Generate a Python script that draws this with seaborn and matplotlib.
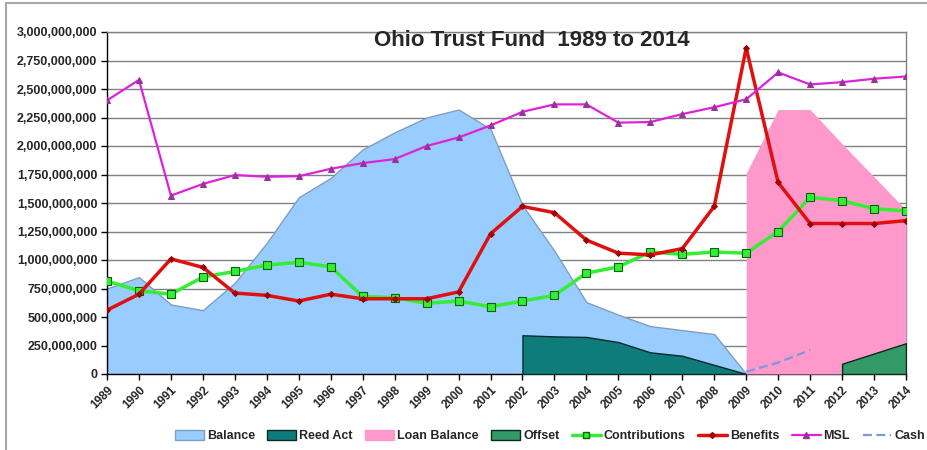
import matplotlib
matplotlib.use("Agg")
import matplotlib.pyplot as plt
import seaborn as sns
import numpy as np
import pandas as pd
from matplotlib.patches import Patch
from matplotlib.lines import Line2D
from matplotlib.ticker import FuncFormatter, MultipleLocator

years = list(range(1989, 2015))

balance = [0.75, 0.85, 0.61, 0.56, 0.80, 1.15, 1.55, 1.72, 1.97, 2.12, 2.25, 2.32, 2.15,
           1.48, 1.08, 0.63, 0.52, 0.42, 0.385, 0.35, 0.0]  # 1989-2009
reed_years = list(range(2002, 2010))
reed_act = [0.34, 0.33, 0.325, 0.28, 0.19, 0.16, 0.08, 0.0]
loan_years = list(range(2009, 2015))
loan_balance = [1.76, 2.32, 2.32, 2.02, 1.73, 1.44]
offset_years = [2012, 2013, 2014]
offset = [0.09, 0.18, 0.27]
contributions = [0.815, 0.73, 0.70, 0.85, 0.90, 0.955, 0.98, 0.94, 0.68, 0.67, 0.62, 0.64,
                 0.59, 0.64, 0.69, 0.885, 0.94, 1.07, 1.05, 1.07, 1.06, 1.25, 1.55, 1.52,
                 1.45, 1.43]
benefits = [0.56, 0.70, 1.01, 0.935, 0.71, 0.69, 0.64, 0.70, 0.66, 0.66, 0.66, 0.72,
            1.23, 1.47, 1.415, 1.175, 1.06, 1.045, 1.10, 1.47, 2.86, 1.68, 1.32, 1.32,
            1.32, 1.345]
msl = [2.40, 2.58, 1.565, 1.667, 1.745, 1.73, 1.735, 1.80, 1.85, 1.885, 2.00, 2.075,
       2.18, 2.30, 2.365, 2.365, 2.205, 2.21, 2.28, 2.34, 2.41, 2.645, 2.54, 2.56, 2.59,
       2.61]
cash_years = [2009, 2010, 2011]
cash = [0.02, 0.10, 0.21]

B = 1e9
sns.set_style("white")
plt.rcParams['font.family'] = ['Liberation Sans', 'DejaVu Sans']

fig = plt.figure(figsize=(9.27, 4.5), dpi=100)
ax = fig.add_axes([107/927, 1-374/450, (906-107)/927, (374-32)/450])

bal_years = years[:len(balance)]
ax.fill_between(bal_years, 0, np.array(balance)*B, color="#99CCFF", edgecolor="#7f9fbf",
                linewidth=1.0, zorder=2)
ax.fill_between(reed_years, 0, np.array(reed_act)*B, color="#0E7C7B", edgecolor="#0a2a2a",
                linewidth=1.0, zorder=3)
ax.fill_between(loan_years, 0, np.array(loan_balance)*B, color="#FF99CC", linewidth=0,
                zorder=3)
ax.fill_between(offset_years, 0, np.array(offset)*B, color="#339966", edgecolor="#0a2a1a",
                linewidth=1.0, zorder=4)

df_c = pd.DataFrame({"year": years, "v": np.array(contributions)*B})
df_b = pd.DataFrame({"year": years, "v": np.array(benefits)*B})
df_m = pd.DataFrame({"year": years, "v": np.array(msl)*B})
df_cash = pd.DataFrame({"year": cash_years, "v": np.array(cash)*B})

sns.lineplot(data=df_c, x="year", y="v", ax=ax, color="#33EE33", linewidth=2.5,
             marker="s", markersize=5.5, markerfacecolor="#33EE33",
             markeredgecolor="#006600", markeredgewidth=0.8, zorder=6)
sns.lineplot(data=df_b, x="year", y="v", ax=ax, color="#E01010", linewidth=2.5,
             marker="D", markersize=3, markerfacecolor="#A00000",
             markeredgecolor="#A00000", zorder=7)
sns.lineplot(data=df_m, x="year", y="v", ax=ax, color="#DD22DD", linewidth=1.6,
             marker="^", markersize=5, markerfacecolor="#993399",
             markeredgecolor="#993399", zorder=8)
sns.lineplot(data=df_cash, x="year", y="v", ax=ax, color="#7799DD", linewidth=1.6,
             linestyle=(0, (4, 2)), zorder=8)

ax.set_xlim(1989, 2014)
ax.set_ylim(0, 3e9)
ax.yaxis.set_major_locator(MultipleLocator(2.5e8))
ax.yaxis.set_major_formatter(FuncFormatter(lambda v, p: f"{int(round(v)):,}"))
ax.set_xticks(years)
ax.set_xticklabels([str(y) for y in years], rotation=45, ha="right",
                   rotation_mode="anchor", fontsize=8.5, fontweight="bold")
for lbl in ax.get_yticklabels():
    lbl.set_fontsize(9)
    lbl.set_fontweight("bold")
ax.set_xlabel("")
ax.set_ylabel("")
ax.grid(axis="y", color="#808080", linewidth=1.0, zorder=0)
ax.set_axisbelow(True)
ax.tick_params(axis="both", which="major", direction="out", length=4, width=1,
               color="black", left=True, bottom=True, pad=3)
for s in ["top", "right"]:
    ax.spines[s].set_color("#808080")
    ax.spines[s].set_linewidth(1.0)
for s in ["left", "bottom"]:
    ax.spines[s].set_color("black")
    ax.spines[s].set_linewidth(1.0)

fig.text(532/927, 1-41/450, "Ohio Trust Fund  1989 to 2014",
         ha="center", va="center", fontsize=16, fontweight="bold", zorder=10)

handles = [
    Patch(facecolor="#99CCFF", edgecolor="#7f9fbf", label="Balance"),
    Patch(facecolor="#0E7C7B", edgecolor="#0a2a2a", label="Reed Act"),
    Patch(facecolor="#FF99CC", edgecolor="#FF99CC", label="Loan Balance"),
    Patch(facecolor="#339966", edgecolor="#0a2a1a", label="Offset"),
    Line2D([], [], color="#33EE33", linewidth=2.5, marker="s", markersize=5,
           markerfacecolor="#33EE33", markeredgecolor="#006600", label="Contributions"),
    Line2D([], [], color="#E01010", linewidth=2.5, marker="D", markersize=3,
           markerfacecolor="#A00000", markeredgecolor="#A00000", label="Benefits"),
    Line2D([], [], color="#DD22DD", linewidth=1.6, marker="^", markersize=5,
           markerfacecolor="#993399", markeredgecolor="#993399", label="MSL"),
    Line2D([], [], color="#7799DD", linewidth=1.6, linestyle=(0, (4, 2)), label="Cash"),
]
leg = fig.legend(handles=handles, loc="center", bbox_to_anchor=(550/927, 1-436/450),
                 ncol=8, frameon=False, prop={"weight": "bold", "size": 9},
                 handlelength=2.3, handletextpad=0.25, columnspacing=1.0,
                 handleheight=0.8, borderaxespad=0, borderpad=0)

fig.add_artist(Line2D([6/927, 6/927], [0, 1-3/450], transform=fig.transFigure,
                      color="#a8a8a8", linewidth=1.5))
fig.add_artist(Line2D([6/927, 1], [1-3/450, 1-3/450], transform=fig.transFigure,
                      color="#a8a8a8", linewidth=1.5))

fig.savefig("out.png", dpi=100)
